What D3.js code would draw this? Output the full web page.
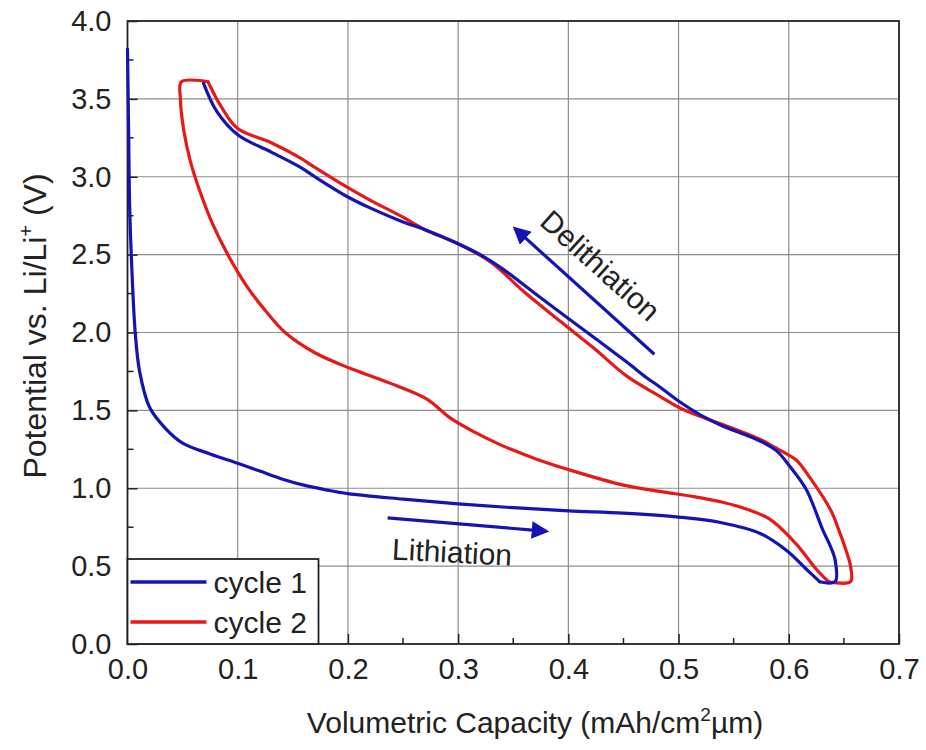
<!DOCTYPE html>
<html>
<head>
<meta charset="utf-8">
<script src="https://cdn.jsdelivr.net/npm/d3@7"></script>
<style>
  body { margin: 0; background: #fff; }
  text { font-family: "Liberation Sans", Arial, sans-serif; fill: #222; }
</style>
</head>
<body>
<div id="chart"></div>
<script>
const width = 926;
const height = 750;
const margin = { top: 21, right: 27, bottom: 106, left: 127.5 };

// cycle 1: lithiation, then delithiation back up
const cycle1Lith = [
  [0.000, 3.82], [0.001, 3.30], [0.002, 2.80], [0.004, 2.40], [0.007, 2.00],
  [0.011, 1.75], [0.020, 1.52], [0.035, 1.38], [0.050, 1.29], [0.075, 1.22],
  [0.100, 1.16], [0.120, 1.11], [0.140, 1.06], [0.160, 1.02], [0.180, 0.99],
  [0.200, 0.965], [0.250, 0.93], [0.300, 0.90], [0.350, 0.875], [0.400, 0.855],
  [0.450, 0.84], [0.500, 0.815], [0.538, 0.78], [0.574, 0.71], [0.598, 0.60],
  [0.616, 0.48], [0.628, 0.40]
];
const cycle1Delith = [
  [0.628, 0.40], [0.642, 0.40], [0.642, 0.54], [0.637, 0.64], [0.631, 0.73],
  [0.616, 0.99], [0.601, 1.14], [0.589, 1.24], [0.575, 1.30], [0.560, 1.345],
  [0.540, 1.40], [0.520, 1.47], [0.500, 1.56], [0.483, 1.65], [0.471, 1.71],
  [0.453, 1.81], [0.423, 1.97], [0.400, 2.09], [0.368, 2.26], [0.340, 2.41],
  [0.320, 2.50], [0.300, 2.57], [0.270, 2.66], [0.250, 2.71], [0.220, 2.80],
  [0.200, 2.87], [0.170, 3.00], [0.157, 3.06], [0.130, 3.16], [0.100, 3.27],
  [0.081, 3.42], [0.069, 3.60]
];

// cycle 2
const cycle2Lith = [
  [0.073, 3.61], [0.049, 3.61], [0.048, 3.50], [0.051, 3.30], [0.057, 3.10],
  [0.066, 2.90], [0.077, 2.70], [0.091, 2.50], [0.108, 2.30], [0.124, 2.15],
  [0.143, 2.00], [0.170, 1.87], [0.202, 1.77], [0.225, 1.71], [0.247, 1.65],
  [0.272, 1.57], [0.293, 1.45], [0.315, 1.36], [0.338, 1.28], [0.370, 1.19],
  [0.400, 1.12], [0.450, 1.02], [0.483, 0.98], [0.515, 0.945], [0.540, 0.91],
  [0.560, 0.87], [0.583, 0.80], [0.607, 0.64], [0.625, 0.48], [0.636, 0.40]
];
const cycle2Delith = [
  [0.636, 0.40], [0.656, 0.40], [0.656, 0.50], [0.652, 0.60], [0.646, 0.72],
  [0.638, 0.86], [0.619, 1.07], [0.607, 1.18], [0.598, 1.22], [0.588, 1.26],
  [0.575, 1.31], [0.562, 1.35], [0.540, 1.41], [0.520, 1.46], [0.500, 1.52],
  [0.483, 1.59], [0.453, 1.72], [0.423, 1.90], [0.393, 2.07], [0.360, 2.26],
  [0.330, 2.45], [0.300, 2.57], [0.270, 2.66], [0.250, 2.74], [0.220, 2.85],
  [0.200, 2.93], [0.170, 3.06], [0.157, 3.12], [0.130, 3.22], [0.100, 3.31],
  [0.085, 3.45], [0.073, 3.61]
];

const xTicks = [0, 0.1, 0.2, 0.3, 0.4, 0.5, 0.6, 0.7];
const yTicks = [0, 0.5, 1.0, 1.5, 2.0, 2.5, 3.0, 3.5, 4.0];
const xMinor = [0.05, 0.15, 0.25, 0.35, 0.45, 0.55, 0.65];
const yMinor = [0.25, 0.75, 1.25, 1.75, 2.25, 2.75, 3.25, 3.75];

const seriesNames = ['cycle 1', 'cycle 2'];
const seriesColors = ['#1414b4', '#e81818'];

// arrows: [from, to]
const lithArrow = [[0.236, 0.81], [0.370, 0.73]];
const delithArrow = [[0.478, 1.86], [0.359, 2.62]];
const lithLabel = { text: 'Lithiation', at: [0.2945, 0.59], angle: 3 };
const delithLabel = { text: 'Delithiation', at: [0.429, 2.43], angle: 42 };

const svg = d3.select('#chart')
  .append('svg')
  .attr('width', width)
  .attr('height', height);

const x = d3.scaleLinear()
  .domain([0, 0.7])
  .range([margin.left, width - margin.right]);

const y = d3.scaleLinear()
  .domain([0, 4])
  .range([height - margin.bottom, margin.top]);

// grid
svg.append('g')
  .selectAll('line')
  .data(xTicks.slice(1, -1))
  .join('line')
    .attr('x1', d => x(d)).attr('x2', d => x(d))
    .attr('y1', y(0)).attr('y2', y(4))
    .attr('stroke', '#8c8c8c').attr('stroke-width', 1.2);

svg.append('g')
  .selectAll('line')
  .data(yTicks.slice(1, -1))
  .join('line')
    .attr('y1', d => y(d)).attr('y2', d => y(d))
    .attr('x1', x(0)).attr('x2', x(0.7))
    .attr('stroke', '#8c8c8c').attr('stroke-width', 1.2);

// axes, ticks inside
function xAxis(g) {
  g.attr('transform', `translate(0, ${y(0)})`)
    .call(d3.axisBottom(x).tickValues(xTicks).tickFormat(d3.format('.1f'))
      .tickSizeInner(-10).tickSizeOuter(0).tickPadding(14))
    .call(g => g.select('.domain').remove())
    .call(g => g.selectAll('.tick line').attr('stroke', '#222').attr('stroke-width', 1.5))
    .call(g => g.selectAll('text').attr('font-size', '29px').attr('fill', '#222'));
}

function yAxis(g) {
  g.attr('transform', `translate(${x(0)}, 0)`)
    .call(d3.axisLeft(y).tickValues(yTicks).tickFormat(d3.format('.1f'))
      .tickSizeInner(-10).tickSizeOuter(0).tickPadding(16))
    .call(g => g.select('.domain').remove())
    .call(g => g.selectAll('.tick line').attr('stroke', '#222').attr('stroke-width', 1.5))
    .call(g => g.selectAll('text').attr('font-size', '29px').attr('fill', '#222'));
}

svg.append('g').call(xAxis);
svg.append('g').call(yAxis);

svg.append('g')
  .selectAll('line')
  .data(xMinor)
  .join('line')
    .attr('x1', d => x(d)).attr('x2', d => x(d))
    .attr('y1', y(0)).attr('y2', y(0) - 6)
    .attr('stroke', '#222').attr('stroke-width', 1.5);

svg.append('g')
  .selectAll('line')
  .data(yMinor)
  .join('line')
    .attr('y1', d => y(d)).attr('y2', d => y(d))
    .attr('x1', x(0)).attr('x2', x(0) + 6)
    .attr('stroke', '#222').attr('stroke-width', 1.5);

// frame
svg.append('rect')
  .attr('x', x(0)).attr('y', y(4))
  .attr('width', x(0.7) - x(0)).attr('height', y(0) - y(4))
  .attr('fill', 'none').attr('stroke', '#222').attr('stroke-width', 1.8);

// curves
const line = d3.line()
  .x(d => x(d[0]))
  .y(d => y(d[1]))
  .curve(d3.curveCatmullRom.alpha(0.5));

const curves = [
  { data: cycle2Lith, c: 1 }, { data: cycle2Delith, c: 1 },
  { data: cycle1Lith, c: 0 }, { data: cycle1Delith, c: 0 }
];

svg.append('g')
  .selectAll('path')
  .data(curves)
  .join('path')
    .attr('d', d => line(d.data))
    .attr('fill', 'none')
    .attr('stroke', d => seriesColors[d.c])
    .attr('stroke-width', 3.2)
    .attr('stroke-linejoin', 'round')
    .attr('stroke-linecap', 'round');

// arrows
svg.append('defs').append('marker')
  .attr('id', 'head')
  .attr('viewBox', '0 0 10 10')
  .attr('refX', 2).attr('refY', 5)
  .attr('markerWidth', 5.5).attr('markerHeight', 5.5)
  .attr('markerUnits', 'strokeWidth')
  .attr('orient', 'auto')
  .append('path')
    .attr('d', 'M0,0 L10,5 L0,10 z')
    .attr('fill', seriesColors[0]);

svg.append('g')
  .selectAll('line')
  .data([lithArrow, delithArrow])
  .join('line')
    .attr('x1', d => x(d[0][0])).attr('y1', d => y(d[0][1]))
    .attr('x2', d => x(d[1][0])).attr('y2', d => y(d[1][1]))
    .attr('stroke', seriesColors[0])
    .attr('stroke-width', 3.2)
    .attr('marker-end', 'url(#head)');

svg.append('g')
  .selectAll('text')
  .data([lithLabel, delithLabel])
  .join('text')
    .attr('transform', d => `translate(${x(d.at[0])}, ${y(d.at[1])}) rotate(${d.angle})`)
    .attr('text-anchor', 'middle')
    .attr('dominant-baseline', 'central')
    .attr('font-size', '30px')
    .text(d => d.text);

// legend
const legend = svg.append('g')
  .attr('transform', `translate(${x(0)}, ${y(0) - 85})`);

legend.append('rect')
  .attr('width', 191).attr('height', 85)
  .attr('fill', '#fff').attr('stroke', '#222').attr('stroke-width', 1.8);

const items = legend.selectAll('g')
  .data(seriesNames)
  .join('g')
    .attr('transform', (d, i) => `translate(0, ${23 + i * 40})`);

items.append('line')
  .attr('x1', 3).attr('x2', 79)
  .attr('stroke', (d, i) => seriesColors[i])
  .attr('stroke-width', 3.4);

items.append('text')
  .attr('x', 86)
  .attr('dominant-baseline', 'central')
  .attr('font-size', '30px')
  .text(d => d);

// axis titles
const xTitle = svg.append('text')
  .attr('x', 535).attr('y', 733)
  .attr('text-anchor', 'middle')
  .attr('font-size', '30px');
xTitle.append('tspan').text('Volumetric Capacity (mAh/cm');
xTitle.append('tspan').attr('font-size', '19px').attr('dy', -12).text('2');
xTitle.append('tspan').attr('dy', 12).text('\u00b5m)');

const yTitle = svg.append('text')
  .attr('transform', `translate(46, 326) rotate(-90)`)
  .attr('text-anchor', 'middle')
  .attr('font-size', '32px');
yTitle.append('tspan').text('Potential vs. Li/Li');
yTitle.append('tspan').attr('font-size', '20px').attr('dy', -13).text('+');
yTitle.append('tspan').attr('dy', 13).text(' (V)');
</script>
</body>
</html>
